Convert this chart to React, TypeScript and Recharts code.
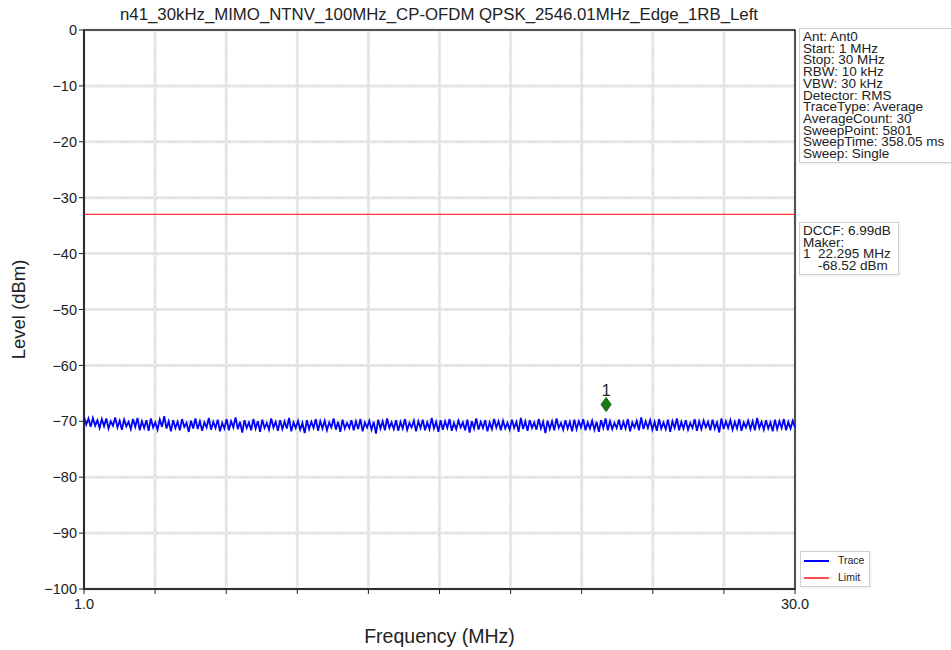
import {
  CartesianGrid,
  Label,
  Line,
  LineChart,
  ReferenceArea,
  ReferenceDot,
  ReferenceLine,
  XAxis,
  YAxis,
} from "recharts";

const title = "n41_30kHz_MIMO_NTNV_100MHz_CP-OFDM QPSK_2546.01MHz_Edge_1RB_Left";

const startMHz = 1;
const stopMHz = 30;
const xTicks = [1, 3.9, 6.8, 9.7, 12.6, 15.5, 18.4, 21.3, 24.2, 27.1, 30];
const yTicks = [0, -10, -20, -30, -40, -50, -60, -70, -80, -90, -100];
const limitLevel = -33;
const marker = { freq: 22.295, level: -68.52, shown: -67 };

const infoLines = [
  "Ant: Ant0",
  "Start: 1 MHz",
  "Stop: 30 MHz",
  "RBW: 10 kHz",
  "VBW: 30 kHz",
  "Detector: RMS",
  "TraceType: Average",
  "AverageCount: 30",
  "SweepPoint: 5801",
  "SweepTime: 358.05 ms",
  "Sweep: Single",
];
const markerLines = ["DCCF: 6.99dB", "Maker:", "1  22.295 MHz", "    -68.52 dBm"];

const traceLevels = [
  -69.2, -70.6, -69.5, -71.0, -69.4, -70.8, -69.8, -71.2, -69.6, -70.9,
  -69.5, -71.3, -70.0, -70.8, -69.3, -71.1, -69.9, -71.5, -69.7, -70.9,
  -70.1, -71.4, -69.6, -71.0, -69.4, -71.6, -70.0, -71.2, -69.8, -71.7,
  -69.5, -71.1, -70.2, -71.5, -69.7, -71.0, -69.1, -71.3, -70.0, -71.8,
  -69.8, -71.2, -70.1, -71.6, -69.6, -71.0, -70.3, -71.9, -69.9, -71.3,
  -69.5, -71.4, -70.0, -71.7, -70.2, -71.1, -69.4, -71.5, -70.1, -71.2,
  -69.7, -71.8, -70.3, -71.3, -69.6, -71.6, -70.0, -71.1, -69.3, -71.4,
  -70.1, -72.0, -69.8, -71.2, -70.2, -71.6, -69.6, -71.3, -70.0, -71.9,
  -69.7, -71.2, -70.3, -71.5, -69.5, -71.1, -70.1, -71.7, -69.8, -71.4,
  -70.0, -71.3, -69.4, -71.8, -70.2, -71.2, -69.9, -71.5, -70.3, -72.1,
  -69.8, -71.4, -70.1, -71.2, -69.6, -71.7, -70.0, -71.3, -69.9, -71.6,
  -70.2, -71.1, -69.5, -71.5, -70.1, -71.9, -69.7, -71.3, -70.3, -71.2,
  -69.8, -71.6, -70.0, -71.4, -69.6, -71.8, -70.2, -71.1, -69.9, -71.5,
  -70.1, -72.2, -69.7, -71.3, -70.0, -71.6, -69.5, -71.2, -70.2, -71.4,
  -69.8, -71.7, -70.1, -71.3, -69.6, -71.5, -70.3, -71.1, -69.9, -71.8,
  -70.0, -71.2, -69.7, -71.6, -70.2, -71.4, -69.4, -71.3, -70.1, -71.9,
  -69.8, -71.5, -70.0, -71.2, -69.6, -71.7, -70.3, -71.4, -69.9, -71.1,
  -70.2, -71.6, -69.7, -72.0, -70.0, -71.3, -69.5, -71.5, -70.1, -71.2,
  -69.8, -71.8, -70.2, -71.4, -69.6, -71.1, -70.0, -71.6, -69.9, -71.3,
  -70.3, -71.5, -69.7, -71.2, -70.1, -71.9, -69.4, -71.4, -70.0, -71.7,
  -69.8, -71.2, -70.2, -71.5, -69.6, -71.3, -70.1, -72.1, -69.9, -71.4,
  -70.0, -71.6, -69.5, -71.2, -70.3, -71.5, -69.8, -71.3, -70.1, -71.8,
  -69.7, -71.4, -70.0, -71.1, -69.6, -71.6, -70.2, -71.3, -69.9, -71.5,
  -70.1, -71.9, -69.8, -71.2, -69.5, -71.6, -70.0, -71.4, -70.3, -71.2,
  -69.7, -71.5, -70.1, -71.3, -69.6, -71.8, -70.2, -71.1, -69.9, -71.6,
  -69.3, -71.4, -70.0, -71.2, -69.8, -71.5, -70.1, -71.7, -69.6, -71.3,
  -70.2, -71.4, -69.7, -71.9, -70.0, -71.2, -69.5, -71.6, -70.1, -71.3,
  -69.8, -71.5, -70.3, -71.2, -69.6, -71.7, -70.0, -71.4, -69.9, -71.1,
  -70.1, -71.6, -69.7, -71.3, -70.2, -72.0, -69.5, -71.4, -70.0, -71.2,
  -69.8, -71.5, -70.1, -71.3, -69.6, -71.7, -70.2, -71.1, -69.9, -71.4,
  -70.0, -71.6, -69.4, -71.2, -70.1, -71.5, -69.8, -71.3, -70.2, -71.8,
  -69.7, -71.4, -70.0, -71.2, -69.6, -71.6, -70.1, -71.3, -69.9, -71.1,
];

const FONT = '"Liberation Sans", Arial, sans-serif';

const data = traceLevels.map((level, i) => ({
  freq: startMHz + (i * (stopMHz - startMHz)) / (traceLevels.length - 1),
  level,
}));

const fmtY = (v: number) => (v < 0 ? `\u2212${Math.abs(v)}` : String(v));
const fmtX = (v: number) => (v === startMHz || v === stopMHz ? v.toFixed(1) : "");

function Diamond({ cx, cy }: { cx?: number; cy?: number }) {
  if (cx == null || cy == null) return null;
  return (
    <g>
      <path
        d={`M${cx},${cy - 7} L${cx + 5},${cy} L${cx},${cy + 7} L${cx - 5},${cy} Z`}
        fill="#1a7a1a"
        stroke="#0d5c0d"
        strokeWidth={1}
      />
      <text x={cx} y={cy - 9} textAnchor="middle" fontSize={16} fill="#222" fontFamily={FONT}>
        1
      </text>
    </g>
  );
}

const boxStyle: React.CSSProperties = {
  position: "absolute",
  background: "#fff",
  border: "1px solid #d0d0d0",
  fontFamily: FONT,
  fontSize: 13.5,
  lineHeight: "11.7px",
  color: "#222",
  padding: "2px 3px",
  whiteSpace: "pre",
  boxShadow: "1px 1px 2px rgba(0,0,0,0.08)",
};

export default function App() {
  return (
    <div style={{ position: "absolute", left: 0, top: 0, width: 951, height: 650, background: "#fff", fontFamily: FONT }}>
      <div
        style={{
          position: "absolute",
          left: 0,
          width: 878,
          top: 5,
          textAlign: "center",
          fontSize: 16.8,
          color: "#222",
        }}
      >
        {title}
      </div>
      <LineChart
        width={951}
        height={650}
        data={data}
        margin={{ top: 30, right: 156, bottom: 21, left: 34 }}
      >
        <CartesianGrid stroke="#e8e8e8" strokeWidth={3} horizontalValues={yTicks} verticalValues={xTicks} />
        <CartesianGrid
          stroke="#d2d2d2"
          strokeWidth={0.6}
          strokeDasharray="3 3"
          horizontalValues={yTicks}
          verticalValues={xTicks}
        />
        <XAxis
          dataKey="freq"
          type="number"
          domain={[startMHz, stopMHz]}
          ticks={xTicks}
          tickFormatter={fmtX}
          interval={0}
          height={40}
          tick={{ fill: "#222", fontSize: 14.5, fontFamily: FONT, dy: 3 }}
          axisLine={{ stroke: "#222", strokeWidth: 1.5 }}
          tickLine={{ stroke: "#222" }}
          tickSize={5}
        >
          <Label value="Frequency (MHz)" position="insideBottom" offset={-14} fill="#222" fontSize={19.5} fontFamily={FONT} />
        </XAxis>
        <YAxis
          type="number"
          domain={[-100, 0]}
          ticks={yTicks}
          tickFormatter={fmtY}
          interval={0}
          width={50}
          tick={{ fill: "#222", fontSize: 14.5, fontFamily: FONT }}
          axisLine={{ stroke: "#222", strokeWidth: 1.5 }}
          tickLine={{ stroke: "#222" }}
          tickSize={5}
        >
          <Label
            value="Level (dBm)"
            angle={-90}
            position="insideLeft"
            offset={-16}
            style={{ textAnchor: "middle" }}
            fill="#222"
            fontSize={18.5}
            fontFamily={FONT}
          />
        </YAxis>
        <ReferenceArea x1={startMHz} x2={stopMHz} y1={-100} y2={0} fill="none" stroke="#222" strokeWidth={1.5} />
        <ReferenceLine y={limitLevel} stroke="#ff3333" strokeWidth={1.2} />
        <Line
          dataKey="level"
          stroke="#0000ff"
          strokeWidth={1.8}
          dot={false}
          isAnimationActive={false}
        />
        <ReferenceDot x={marker.freq} y={marker.shown} r={5} shape={<Diamond />} />
      </LineChart>
      <div style={{ ...boxStyle, left: 799, top: 28, width: 145 }}>{infoLines.join("\n")}</div>
      <div style={{ ...boxStyle, left: 799, top: 222, width: 92 }}>{markerLines.join("\n")}</div>
      <div
        style={{
          ...boxStyle,
          left: 800,
          top: 551,
          width: 62,
          fontSize: 10.5,
          lineHeight: "17px",
          padding: "0 3px",
        }}
      >
        <div style={{ display: "flex", alignItems: "center" }}>
          <span style={{ display: "inline-block", width: 25, height: 2, background: "#0000ff", marginRight: 9 }} />
          Trace
        </div>
        <div style={{ display: "flex", alignItems: "center" }}>
          <span style={{ display: "inline-block", width: 25, height: 2, background: "#ff4d4d", marginRight: 9 }} />
          Limit
        </div>
      </div>
    </div>
  );
}
